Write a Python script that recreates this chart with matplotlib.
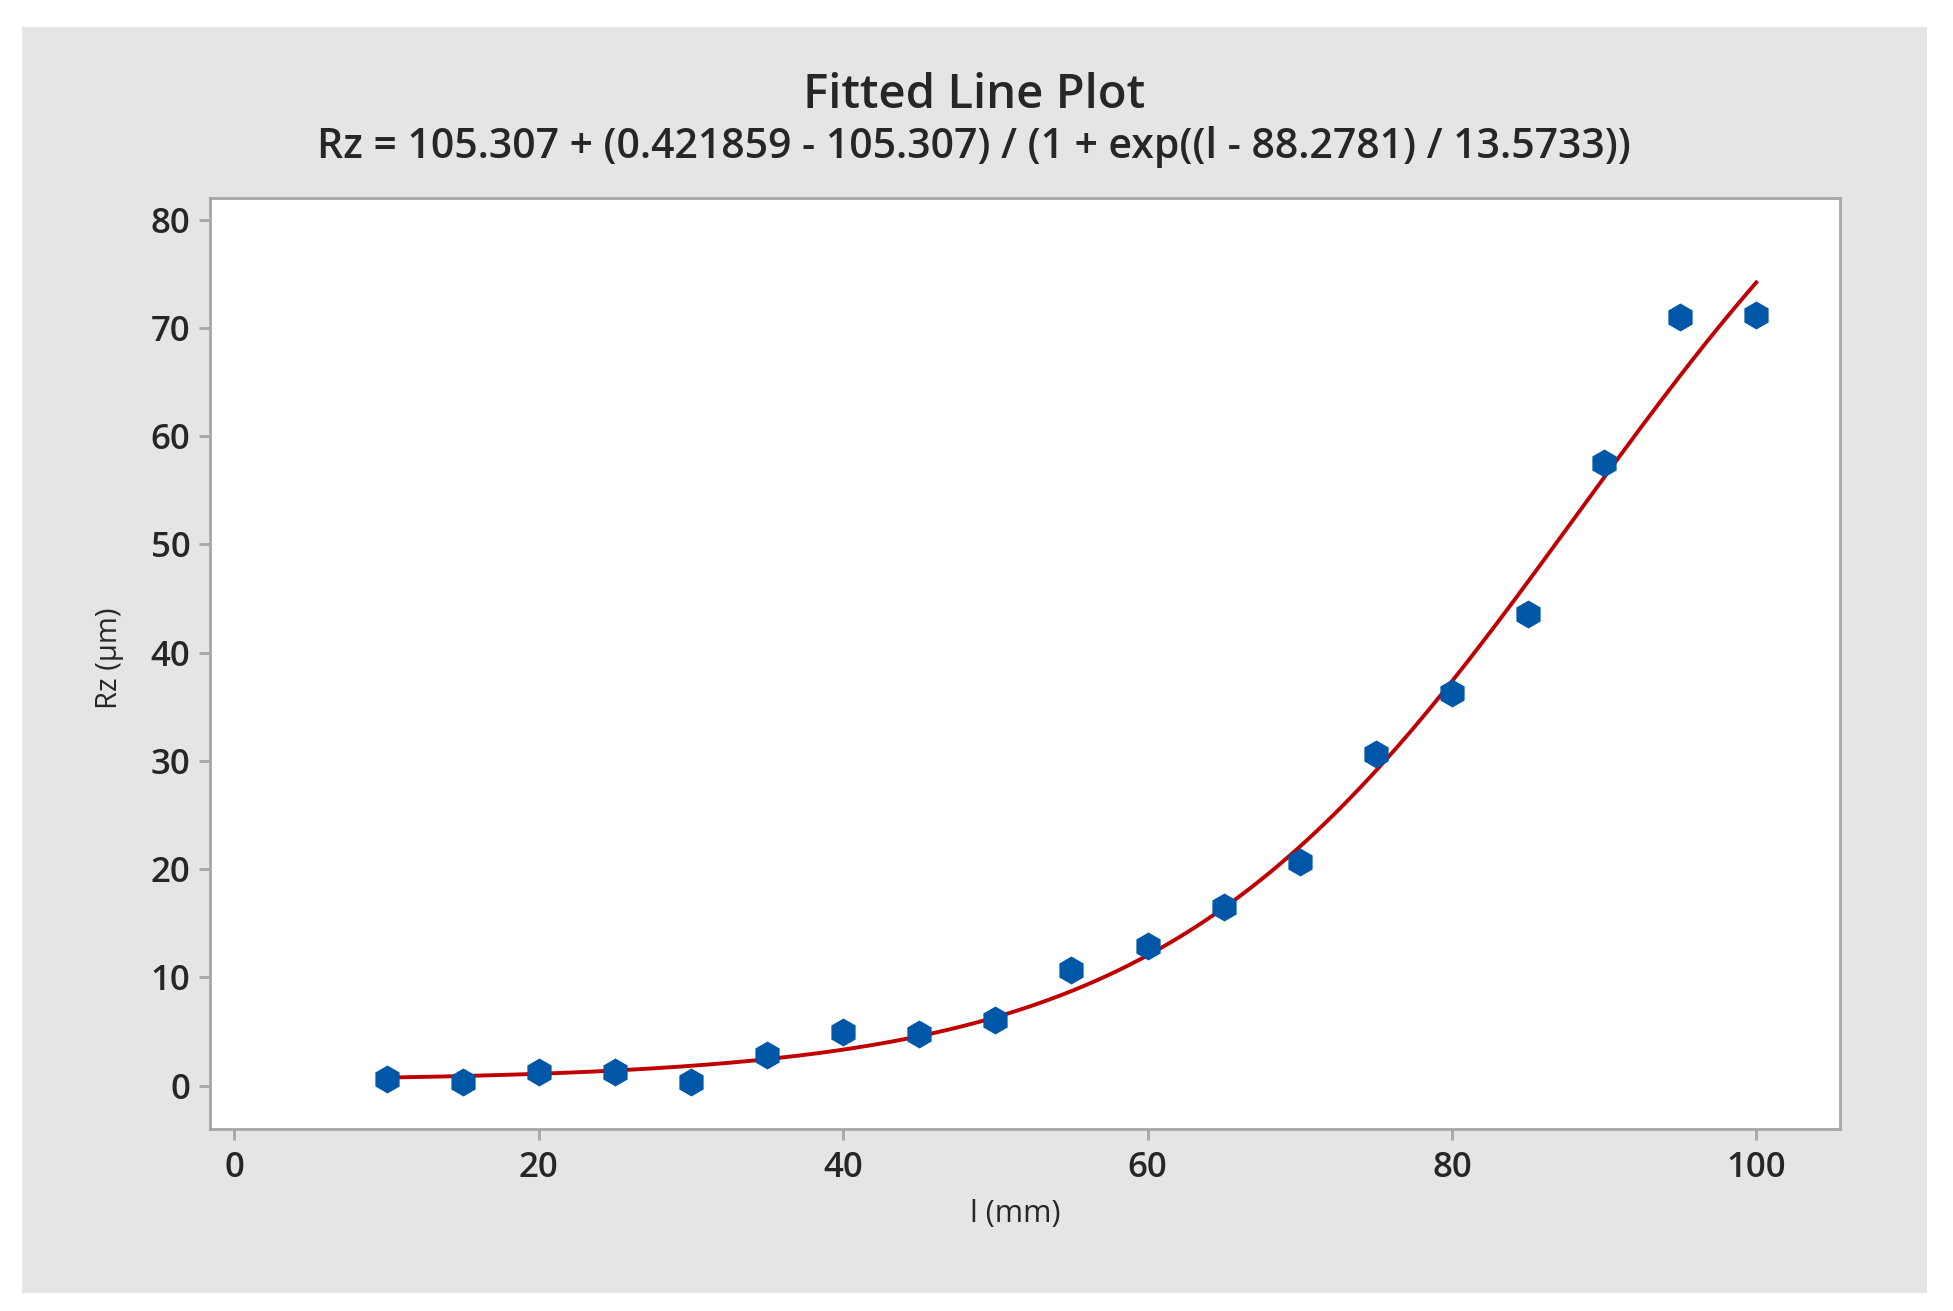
import numpy as np
import matplotlib.pyplot as plt
from matplotlib.patches import Rectangle

plt.rcParams['font.family'] = ['Open Sans', 'DejaVu Sans']

# data
length_mm = [10, 15, 20, 25, 30, 35, 40, 45, 50, 55, 60, 65, 70, 75, 80, 85, 90, 95, 100]
rz_um = [0.6, 0.3, 1.3, 1.3, 0.3, 2.8, 5.0, 4.8, 6.1, 10.7, 12.9, 16.5, 20.7,
         30.6, 36.3, 43.6, 57.5, 71.0, 71.2]

# fitted model parameters (from the subtitle)
fit_top = 105.307
fit_bottom = 0.421859
fit_mid = 88.2781
fit_scale = 13.5733

x_ticks = [0, 20, 40, 60, 80, 100]
y_ticks = [0, 10, 20, 30, 40, 50, 60, 70, 80]

panel_gray = '#e5e5e5'
axis_gray = '#a6a6a6'
text_col = '#262626'

fig = plt.figure(figsize=(19.53, 13.11), dpi=100, facecolor='white')
fig.patches.append(Rectangle((22 / 1953, 1 - 1293 / 1311), (1927 - 22) / 1953, (1293 - 27) / 1311,
                             transform=fig.transFigure, facecolor=panel_gray, edgecolor='none', zorder=-10))

ax = fig.add_axes([210 / 1953, 1 - 1129 / 1311, (1840 - 210) / 1953, (1129 - 198) / 1311])
ax.set_facecolor('white')

xs = np.linspace(10, 100, 300)
fit = fit_top + (fit_bottom - fit_top) / (1 + np.exp((xs - fit_mid) / fit_scale))
ax.plot(xs, fit, color='#c00000', lw=2.8, zorder=2)
ax.plot(length_mm, rz_um, 'h', color='#0057a8', markersize=19, mec='#0057a8', zorder=3)

ax.set_xlim(-1.6, 105.5)
ax.set_ylim(-4.0, 82.0)
ax.set_xticks(x_ticks)
ax.set_yticks(y_ticks)

for s in ax.spines.values():
    s.set_color(axis_gray)
    s.set_linewidth(2)
ax.tick_params(axis='both', colors=axis_gray, length=8, width=2, labelcolor=text_col,
               labelsize=25)
ax.tick_params(axis='x', pad=8)
ax.tick_params(axis='y', pad=6)
for lbl in ax.get_xticklabels() + ax.get_yticklabels():
    lbl.set_fontweight('semibold')

fig.text(1015 / 1953, 1 - 1214 / 1311, 'l (mm)', ha='center', va='center', fontsize=22, color=text_col)
fig.text(110 / 1953, 1 - 658 / 1311, 'Rz (µm)', ha='center', va='center', rotation=90,
         fontsize=21, color=text_col)

fig.text(974 / 1953, 1 - 95 / 1311, 'Fitted Line Plot', ha='center', va='center',
         fontsize=34, fontweight='semibold', color=text_col)
fig.text(974 / 1953, 1 - 147 / 1311,
         'Rz = 105.307 + (0.421859 - 105.307) / (1 + exp((l - 88.2781) / 13.5733))',
         ha='center', va='center', fontsize=29.5, fontweight='semibold', color=text_col)

fig.savefig('out.png', dpi=100, facecolor='white')
